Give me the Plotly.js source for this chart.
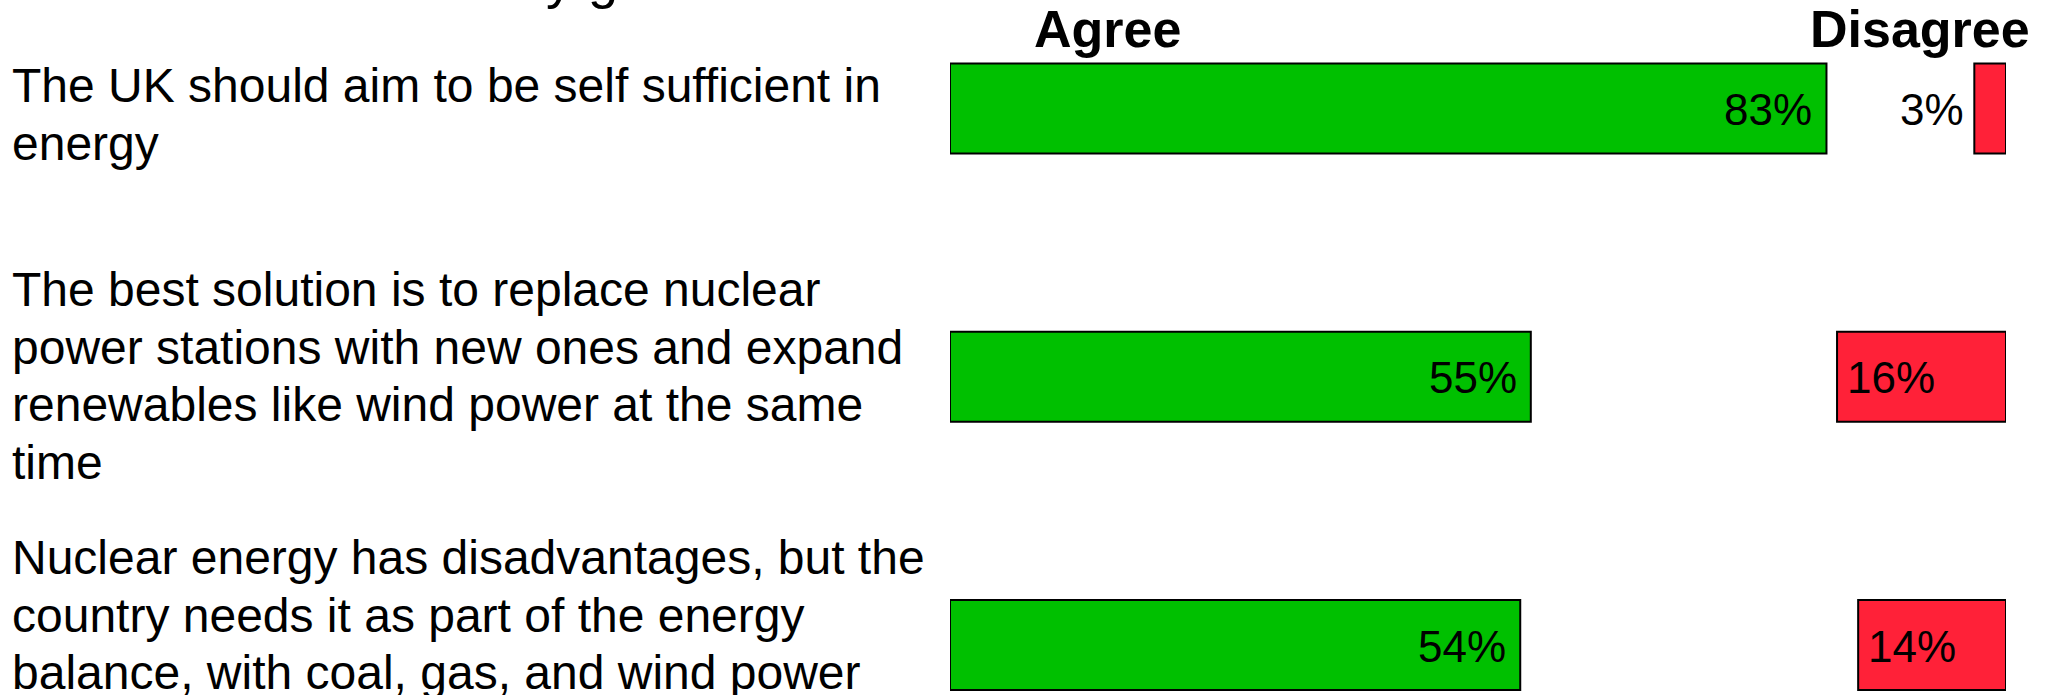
<!DOCTYPE html>
<html>
<head>
<meta charset="utf-8">
<script src="https://cdn.plot.ly/plotly-3.0.1.min.js"></script>
<style>
  html, body { margin: 0; padding: 0; background: #ffffff; }
  #chart { width: 2049px; height: 695px; }
</style>
</head>
<body>
<div id="chart"></div>
<script>
// ---- data ----
const statementLines = [
  ["The UK should aim to be self sufficient in", "energy"],
  ["The best solution is to replace nuclear", "power stations with new ones and expand", "renewables like wind power at the same", "time"],
  ["Nuclear energy has disadvantages, but the", "country needs it as part of the energy", "balance, with coal, gas, and wind power"]
];
const agreeValues = [83, 55, 54];
const disagreeValues = [3, 16, 14];
const headerLabels = ["Agree", "Disagree"];
const croppedTitle = "y g";

// ---- layout constants ----
const W = 2049, H = 695;
const FONT = '"Liberation Sans", Arial, Helvetica, sans-serif';
const GREEN = '#00C000';
const RED = '#FF2138';
const catIdx = agreeValues.map((_, i) => i);
const blockFirstBaseline = [-6, -70.5, -70.5]; // px offset from bar centre
const lineStep = 57.5;
const bodySize = 48;

const px2x = px => px / W;
const px2y = py => 1 - py / H;

const traces = [
  {
    type: 'bar', orientation: 'h',
    y: catIdx, x: agreeValues, base: agreeValues.map(() => 0),
    width: 0.3355,
    marker: { color: GREEN, line: { color: '#000000', width: 2 } },
    hoverinfo: 'skip', showlegend: false
  },
  {
    type: 'bar', orientation: 'h',
    y: catIdx, x: disagreeValues, base: disagreeValues.map(v => 100 - v),
    width: 0.3355,
    marker: { color: RED, line: { color: '#000000', width: 2 } },
    hoverinfo: 'skip', showlegend: false
  }
];

const annotations = [];

// statement text, one annotation per line
statementLines.forEach((lines, i) => {
  lines.forEach((line, k) => {
    const baseline = blockFirstBaseline[i] + k * lineStep;
    annotations.push({
      xref: 'paper', yref: 'y', x: px2x(10), y: i,
      xanchor: 'left', yanchor: 'middle',
      yshift: -(baseline - 0.3465 * bodySize),
      text: line, showarrow: false,
      font: { family: FONT, size: bodySize, color: '#000000' }
    });
  });
});

// value labels
agreeValues.forEach((v, i) => {
  annotations.push({
    xref: 'x', yref: 'y', x: v, y: i,
    xanchor: 'right', yanchor: 'middle', xshift: -12, yshift: -1,
    text: v + '%', showarrow: false,
    font: { family: FONT, size: 44, color: '#000000' }
  });
});
disagreeValues.forEach((v, i) => {
  const inside = v >= 8;
  annotations.push({
    xref: 'x', yref: 'y', x: 100 - v, y: i,
    xanchor: inside ? 'left' : 'right', yanchor: 'middle',
    xshift: inside ? 8 : -8, yshift: -1,
    text: v + '%', showarrow: false,
    font: { family: FONT, size: 44, color: '#000000' }
  });
});

// headers
const headerCentres = [1107, 1920];
headerLabels.forEach((h, j) => {
  annotations.push({
    xref: 'paper', yref: 'paper', x: px2x(headerCentres[j]), y: px2y(47 - 0.3465 * 52),
    xanchor: 'center', yanchor: 'middle',
    text: '<b>' + h + '</b>', showarrow: false,
    font: { family: FONT, size: 52, color: '#000000' }
  });
});

// title cropped at the top edge (only descenders visible)
annotations.push({
  xref: 'paper', yref: 'paper', x: px2x(544), y: px2y(-2 - 0.3465 * 54),
  xanchor: 'left', yanchor: 'middle',
  text: croppedTitle, showarrow: false,
  font: { family: FONT, size: 54, color: '#000000' }
});

const layout = {
  width: W, height: H,
  margin: { l: 0, r: 0, t: 0, b: 0, pad: 0 },
  paper_bgcolor: '#ffffff', plot_bgcolor: '#ffffff',
  barmode: 'overlay', showlegend: false,
  xaxis: {
    domain: [950 / W, 2006 / W], range: [0, 100],
    showgrid: false, zeroline: false, showticklabels: false, showline: false, ticks: ''
  },
  yaxis: {
    range: [2.1864, -0.4045],
    showgrid: false, zeroline: false, showticklabels: false, showline: false, ticks: ''
  },
  annotations: annotations
};

Plotly.newPlot('chart', traces, layout, { displayModeBar: false, staticPlot: true });
</script>
</body>
</html>
